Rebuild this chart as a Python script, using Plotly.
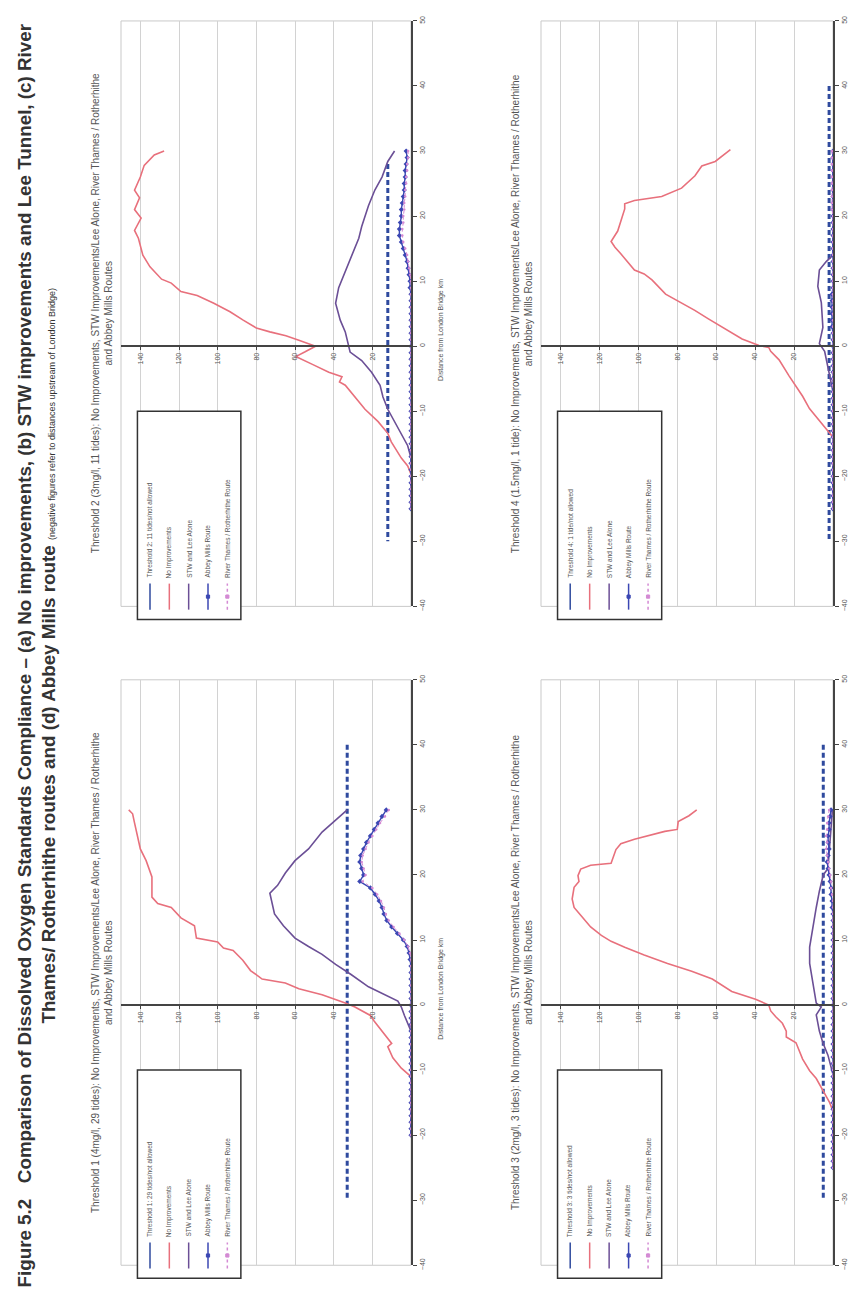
import plotly.graph_objects as go

W, H = 864, 1295

# ---------------- data (value = % / tides, distance = km from London Bridge) ----------------
stations_25 = [30, 29, 28, 27, 26, 25, 24, 23, 22, 21, 20, 19, 18, 17, 16, 15, 14, 13, 12, 11,
               10, 9, 8, 7, 6, 5, 4, 3, 2, 1, 0, -1, -2, -3, -4, -5, -6, -7, -8, -9, -10,
               -11, -12, -13, -14, -15, -16, -17, -18, -19, -20, -21, -22, -23, -24, -25]
stations_20 = [30, 29, 28, 27, 26, 25, 24, 23, 22, 21, 20, 19, 18, 17, 16, 15, 14, 13, 12, 11,
               10, 9, 8, 7, 6, 5, 4, 3, 2, 1, 0, -1, -2, -3, -4, -5, -6, -7, -8, -9, -10,
               -11, -12, -13, -14, -15, -16, -17, -18, -19, -20]

# Threshold 1 (bottom-left)
t1_thr_d = [40, -30]
t1_thr_v = [33, 33]
t1_noimp_d = [30, 29.4, 28, 26.6, 24, 22.2, 19.7, 16.6, 15.6, 15, 13.4, 12.2, 10.3, 9.7, 8.75, 8.4, 6.9,
              5.3, 4, 3.4, 2.5, 1.6, 0.9, 0.3, -0.3, -0.9, -1.6, -2.5, -4.7, -5.9, -6.4, -8.1, -9.7,
              -11, -15]
t1_noimp_v = [146, 144, 143, 142, 140, 137, 134, 134, 131, 124, 119, 112, 111, 100, 97, 92, 87,
              83, 77, 65, 58, 46, 39, 34, 29, 25.5, 21, 19, 13, 10, 12, 9.4, 5, 0, 0]
t1_stw_d = [30, 28.4, 26.6, 24, 22.2, 20.3, 18.4, 17.2, 15.9, 14, 12.2, 10.3, 9, 7.8, 6.25, 4.7, 2.8,
            1.6, 0.6, -0.3, -1.6, -4, -20]
t1_stw_v = [33, 39, 46, 53, 60, 65, 69, 73, 72, 70.6, 66, 60, 53, 46, 39, 31, 22, 13.6, 6.8, 5,
            3.4, 0, 0]
t1_abbey_v = [12.8, 15, 17, 19, 21, 23, 24.5, 26, 26.5, 25.5, 24.5, 26.5, 21, 18.5, 16.5, 15, 14, 12.5,
              10, 7, 4, 2, 1, 0.5, 0, 0, 0, 0, 0, 0, 0, 0, 0, 0, 0, 0, 0, 0, 0, 0, 0, 0, 0, 0,
              0, 0, 0, 0, 0, 0, 0]
t1_thames_v = [11.5, 13.5, 16, 18, 20, 22, 23.5, 25, 25.5, 24.5, 23.5, 25, 20, 17.5, 15.5, 14, 13, 11.5,
               9, 6, 3.5, 1.5, 0.5, 0, 0, 0, 0, 0, 0, 0, 0, 0, 0, 0, 0, 0, 0, 0, 0, 0, 0, 0, 0, 0,
               0, 0, 0, 0, 0, 0, 0]

# Threshold 2 (top-left)
t2_thr_d = [28, -30]
t2_thr_v = [12, 12]
t2_noimp_d = [30, 29.4, 27.8, 26, 24, 22.8, 21, 19.7, 17.8, 16.6, 14, 12.2, 10.3, 9.7, 8.4, 7.8, 6.6,
              5.3, 4, 2.8, 2.2, 1.6, 0.9, 0.3, 0, -0.9, -1.6, -2.8, -4, -4.7, -5.5, -6, -7.2, -9.7,
              -11.6, -13.4, -14.7, -15.9, -17.2, -18.4, -19.7, -25]
t2_noimp_v = [127.7, 132.8, 138, 140, 143, 140.4, 143, 139.6, 143, 141, 138.7, 135, 129, 124, 119,
              110.6, 102, 93.6, 86.8, 80, 73, 64.7, 58, 52.8, 49.4, 55, 59.6, 51, 42.5, 35.7, 37, 34,
              30.6, 23.8, 17, 12, 10.2, 7.7, 5, 1.7, 0, 0]
t2_stw_d = [30, 28.4, 26, 24, 21.6, 18.4, 16.6, 14, 11.6, 9, 6.6, 4, 2.2, 0.9, -0.9, -2.2, -4, -6,
            -7.8, -9.7, -11.6, -13.4, -15.3, -17.2, -25]
t2_stw_v = [8.5, 12, 15, 18.7, 22, 25.5, 27, 30.6, 34, 37.4, 39, 36.6, 34, 33, 31.5, 25.5, 20.4, 16,
            14.5, 12, 8.5, 5, 1.7, 0, 0]
t2_abbey_v = [2.5, 2, 2.5, 3, 3, 3.5, 3.5, 4, 4.5, 5, 5, 5.5, 6, 6, 5, 4, 3, 2, 1.5, 1, 0.5, 0.5,
              0, 0, 0, 0, 0, 0, 0, 0, 0, 0, 0, 0, 0, 0, 0, 0, 0, 0, 0, 0, 0, 0, 0, 0, 0, 0, 0, 0,
              0, 0, 0, 0, 0, 0]
t2_thames_v = [1.5, 1.5, 2, 2, 2.5, 2.5, 3, 3, 3.5, 3.5, 4, 4, 4.5, 4.5, 4, 3, 2, 1.5, 1, 0.5, 0, 0,
               0, 0, 0, 0, 0, 0, 0, 0, 0, 0, 0, 0, 0, 0, 0, 0, 0, 0, 0, 0, 0, 0, 0, 0, 0, 0, 0, 0,
               0, 0, 0, 0, 0, 0]

# Threshold 3 (bottom-right)
t3_thr_d = [40, -30]
t3_thr_v = [5, 5]
t3_noimp_d = [30, 29.1, 28.2, 27, 26.7, 26.1, 25.5, 24.8, 23.9, 21.8, 21.5, 20.9, 19.9, 19, 18.1, 16.3,
              15, 13.8, 13.2, 12, 10.7, 9.8, 8.9, 7.7, 6.4, 5.2, 4, 2.1, 0.9, 0, -0.9, -1.8, -2.8,
              -4, -4.9, -5.8, -8.3, -10.1, -11.3, -13.2, -15, -16.3, -25]
t3_noimp_v = [70, 74, 79.5, 80, 86.4, 95, 102, 109, 111.5, 114, 124.5, 129.6, 131, 130.5, 133, 134,
              133, 129.6, 128, 124.5, 119, 114, 107, 97, 85, 72.6, 62, 52, 39.8, 33, 32, 29.4, 26,
              24, 24, 19, 15.6, 12, 8.6, 5.2, 1.7, 0, 0]
t3_stw_d = [30, 24, 21, 20, 17.5, 15, 12.6, 10.7, 8.9, 6.4, 4.6, 2.1, 0.3, -0.3, -1.5, -4, -5.8,
            -7.7, -9.5, -10.7, -25]
t3_stw_v = [0.3, 1.7, 2.6, 5, 7, 8.6, 10, 11, 12, 12, 11, 9.5, 8.6, 6, 8.6, 7, 5.2, 2.6, 0.9, 0, 0]
t3_abbey_v = [1, 1.5, 2, 2, 2.5, 2.5, 2, 2.5, 3, 2.5, 2, 1.5, 1, 1, 0.5, 0.5, 0, 0, 0, 0, 0, 0, 0,
              0, 0, 0, 0, 0, 0, 0, 0, 0, 0, 0, 0, 0, 0, 0, 0, 0, 0, 0, 0, 0, 0, 0, 0, 0, 0, 0, 0,
              0, 0, 0, 0, 0]
t3_thames_v = [2, 2.5, 3, 3, 3.5, 3, 3.5, 3, 2.5, 2, 1.5, 1, 1, 0.5, 0, 0, 0, 0, 0, 0, 0, 0, 0, 0,
               0, 0, 0, 0, 0, 0, 0, 0, 0, 0, 0, 0, 0, 0, 0, 0, 0, 0, 0, 0, 0, 0, 0, 0, 0, 0, 0,
               0, 0, 0, 0, 0]

# Threshold 4 (top-right)
t4_thr_d = [40, -30]
t4_thr_v = [2, 2]
t4_noimp_d = [30.2, 28.4, 27.7, 26.2, 24.3, 23, 22.4, 21.9, 21.1, 19.3, 17.7, 16.1, 15.2, 14.2, 12.7,
              11.7, 11.1, 10.2, 8, 6.7, 5.5, 4.2, 2.3, 1.1, 0.1, -0.2, -0.8, -2.1, -4.6, -7.7, -9.6,
              -10.9, -12.1, -13.4, -14, -25]
t4_noimp_v = [52.7, 60.5, 67.4, 70.9, 77.8, 88, 102, 107, 107, 109, 110.6, 114, 112, 109, 105, 102,
              97, 93, 86, 78, 71, 64, 53.6, 46.7, 38, 33, 32, 27.7, 22.5, 15.6, 12.1, 8.6, 5.2, 1.7,
              0, 0]
t4_stw_d = [30, 14, 13, 11.7, 9.2, 6.7, 2.9, 0.4, -0.8, -4.6, -7, -25]
t4_stw_v = [0, 0, 3.5, 7, 7.8, 6, 5.2, 7, 4.3, 1.7, 0, 0]
t4_abbey_v = [0, 0, 0, 0, 0, 0, 0, 0, 0, 0, 0, 0, 0, 0, 0, 0, 0, 0, 0, 0, 0, 0, 0.5, 0.5, 0.5, 0.5,
              0.5, 0.5, 0, 0, 0, 0, 0, 0, 0, 0, 0, 0, 0, 0, 0, 0, 0, 0, 0, 0, 0, 0, 0, 0, 0, 0,
              0, 0, 0, 0]
t4_thames_v = [0.5, 0.5, 0.5, 0.5, 0.5, 0.5, 0.5, 0.5, 0.5, 0.5, 0, 0, 0, 0, 0, 0, 0, 0, 0, 0, 0,
               0, 0, 0, 0, 0, 0, 0, 0, 0, 0, 0, 0, 0, 0, 0, 0, 0, 0, 0, 0, 0, 0, 0, 0, 0, 0, 0, 0,
               0, 0, 0, 0, 0, 0, 0]

value_ticks = [20, 40, 60, 80, 100, 120, 140]
dist_ticks = [-40, -30, -20, -10, 0, 10, 20, 30, 40, 50]

titles = [
    "Threshold 1 (4mg/l, 29 tides): No Improvements, STW Improvements/Lee Alone, River Thames / Rotherhithe<br>and Abbey Mills Routes",
    "Threshold 2 (3mg/l, 11 tides): No Improvements, STW Improvements/Lee Alone, River Thames / Rotherhithe<br>and Abbey Mills Routes",
    "Threshold 3 (2mg/l, 3 tides): No Improvements, STW Improvements/Lee Alone, River Thames / Rotherhithe<br>and Abbey Mills Routes",
    "Threshold 4 (1.5mg/l, 1 tide): No Improvements, STW Improvements/Lee Alone, River Thames / Rotherhithe<br>and Abbey Mills Routes",
]
legend_names = [
    ["Threshold 1: 29 tides/not allowed", "Threshold 2: 11 tides/not allowed",
     "Threshold 3: 3 tides/not allowed", "Threshold 4: 1 tide/not allowed"],
    "No Improvements", "STW and Lee Alone", "Abbey Mills Route", "River Thames / Rotherhithe Route",
]

# ---------------- styling / layout ----------------
C_THR = "#2f4a9e"
C_RED = "#e8707c"
C_STW = "#6b4f96"
C_ABB = "#3b47b3"
C_THA = "#d48ad4"
FONT = "Liberation Sans, Arial, sans-serif"

LEFT_X = (113, 403)
RIGHT_X = (533, 825)
TOP_Y = (8, 598)      # pixel rows of distance 50 and -40
BOT_Y = (672, 1262)

panels = [
    (1, LEFT_X, BOT_Y, dict(thr=(t1_thr_d, t1_thr_v), red=(t1_noimp_d, t1_noimp_v),
                              stw=(t1_stw_d, t1_stw_v), st=stations_20,
                              abb=t1_abbey_v, tha=t1_thames_v)),
    (2, LEFT_X, TOP_Y, dict(thr=(t2_thr_d, t2_thr_v), red=(t2_noimp_d, t2_noimp_v),
                             stw=(t2_stw_d, t2_stw_v), st=stations_25,
                             abb=t2_abbey_v, tha=t2_thames_v)),
    (3, RIGHT_X, BOT_Y, dict(thr=(t3_thr_d, t3_thr_v), red=(t3_noimp_d, t3_noimp_v),
                               stw=(t3_stw_d, t3_stw_v), st=stations_25,
                               abb=t3_abbey_v, tha=t3_thames_v)),
    (4, RIGHT_X, TOP_Y, dict(thr=(t4_thr_d, t4_thr_v), red=(t4_noimp_d, t4_noimp_v),
                              stw=(t4_stw_d, t4_stw_v), st=stations_25,
                              abb=t4_abbey_v, tha=t4_thames_v)),
]

fig = go.Figure()
shapes, annos = [], []
layout_axes = {}


def to_paper(xpx, ypx, v, d):
    px = xpx[0] + (150 - v) / 150.0 * (xpx[1] - xpx[0])
    py = ypx[0] + (50 - d) / 90.0 * (ypx[1] - ypx[0])
    return px / W, 1 - py / H


def rot_text(x, y, text, size, color="#555", xanchor="center", yanchor="middle", align="center"):
    return dict(x=x, y=y, xref="paper", yref="paper", textangle=-90, text=text, showarrow=False,
                xanchor=xanchor, yanchor=yanchor, align=align, borderpad=0,
                font=dict(size=size, color=color, family=FONT))


for idx, xpx, ypx, dat in panels:
    xa = "x" if idx == 1 else f"x{idx}"
    ya = "y" if idx == 1 else f"y{idx}"
    xdom = [xpx[0] / W, xpx[1] / W]
    ydom = [1 - ypx[1] / H, 1 - ypx[0] / H]
    _, zero_py = to_paper(xpx, ypx, 0, 0)

    layout_axes["xaxis" + ("" if idx == 1 else str(idx))] = dict(
        domain=xdom, range=[150, 0], anchor="free", position=zero_py, side="bottom",
        tickvals=value_ticks, tickangle=-90, ticks="outside", ticklen=3, tickcolor="#444",
        showline=True, linecolor="#444", linewidth=1.6, showgrid=True, gridcolor="#d2d2d2",
        gridwidth=1, zeroline=False, tickfont=dict(size=7, color="#555", family=FONT),
        fixedrange=True)
    layout_axes["yaxis" + ("" if idx == 1 else str(idx))] = dict(
        domain=ydom, range=[-40, 50], anchor=xa, side="right", tickvals=dist_ticks,
        tickangle=-90, ticks="outside", ticklen=4, tickcolor="#444", showline=True,
        linecolor="#444", linewidth=1.6, showgrid=False, zeroline=False,
        tickfont=dict(size=7, color="#555", family=FONT), fixedrange=True)

    shapes.append(dict(type="rect", xref="paper", yref="paper", x0=xdom[0], x1=xdom[1],
                       y0=ydom[0], y1=ydom[1], line=dict(color="#c9c9c9", width=1),
                       layer="below"))

    fig.add_trace(go.Scatter(x=dat["thr"][1], y=dat["thr"][0], xaxis=xa, yaxis=ya, mode="lines",
                             line=dict(color=C_THR, width=3, dash="5px,3px"), showlegend=False))
    fig.add_trace(go.Scatter(x=dat["red"][1], y=dat["red"][0], xaxis=xa, yaxis=ya, mode="lines",
                             line=dict(color=C_RED, width=1.6), showlegend=False))
    fig.add_trace(go.Scatter(x=dat["stw"][1], y=dat["stw"][0], xaxis=xa, yaxis=ya, mode="lines",
                             line=dict(color=C_STW, width=1.6), showlegend=False))
    fig.add_trace(go.Scatter(x=dat["abb"], y=dat["st"], xaxis=xa, yaxis=ya, mode="lines+markers",
                             line=dict(color=C_ABB, width=1.4),
                             marker=dict(symbol="diamond", size=4, color=C_ABB),
                             showlegend=False))
    fig.add_trace(go.Scatter(x=dat["tha"], y=dat["st"], xaxis=xa, yaxis=ya, mode="lines+markers",
                             line=dict(color=C_THA, width=1, dash="dot"),
                             marker=dict(symbol="circle", size=2.5, color=C_THA),
                             showlegend=False))

    ax_x, _ = to_paper(xpx, ypx, 0, 0)
    _, ty = to_paper(xpx, ypx, 0, 2.5)
    annos.append(rot_text(ax_x + 30 / W, ty, "Distance from London Bridge km", 7))
    _, cy = to_paper(xpx, ypx, 0, 5)
    annos.append(rot_text((xpx[0] - 19.5) / W, cy, titles[idx - 1], 10))

    bx0, by0 = to_paper(xpx, ypx, 141.5, -42)
    bx1, by1 = to_paper(xpx, ypx, 88, -10)
    shapes.append(dict(type="rect", xref="paper", yref="paper", x0=bx0, x1=bx1, y0=by0, y1=by1,
                       line=dict(color="#333", width=1.5), fillcolor="white", layer="above"))
    ent_v = [135, 125, 115, 105, 95]
    styles = [(C_THR, "solid", None), (C_RED, "solid", None), (C_STW, "solid", None),
              (C_ABB, "solid", "diamond"), (C_THA, "dot", "circle")]
    for k, v in enumerate(ent_v):
        col, dash, mk = styles[k]
        lx, ly0 = to_paper(xpx, ypx, v, -40.5)
        _, ly1 = to_paper(xpx, ypx, v, -36.5)
        shapes.append(dict(type="line", xref="paper", yref="paper", x0=lx, x1=lx, y0=ly0, y1=ly1,
                           line=dict(color=col, width=1.5, dash=dash), layer="above"))
        if mk:
            my = (ly0 + ly1) / 2
            shapes.append(dict(type="rect", xref="paper", yref="paper", x0=lx - 1.6 / W,
                               x1=lx + 1.6 / W, y0=my - 1.6 / H, y1=my + 1.6 / H,
                               line=dict(color=col, width=1), fillcolor=col, layer="above"))
        _, ty0 = to_paper(xpx, ypx, v, -35.8)
        name = legend_names[0][idx - 1] if k == 0 else legend_names[k]
        annos.append(rot_text(lx, ty0, name, 6.5, yanchor="bottom"))

annos.append(rot_text(
    28 / W, 0.5,
    ("<b>Figure 5.2   Comparison of Dissolved Oxygen Standards Compliance \u2013 (a) No improvements, "
     "(b) STW improvements and Lee Tunnel, (c) River</b><br>"
     "<b>Thames/ Rotherhithe routes and (d) Abbey Mills route</b> "
     "<span style='font-size:9px'>(negative figures refer to distances upstream of London Bridge)</span>"),
    18.8, color="#333"))

fig.update_layout(width=W, height=H, margin=dict(l=0, r=0, t=0, b=0), paper_bgcolor="white",
                  plot_bgcolor="white", showlegend=False, shapes=shapes, annotations=annos,
                  **layout_axes)

fig.write_html("out.html")
